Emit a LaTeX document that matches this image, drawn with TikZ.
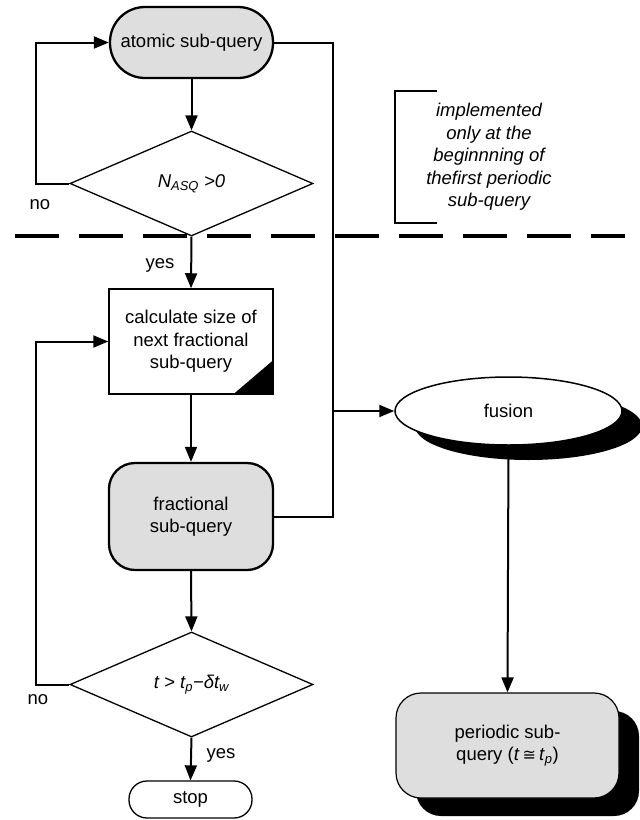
\documentclass[tikz,border=0pt]{standalone}
\usepackage{fontspec}
\setmainfont{Liberation Sans}
\newfontfamily\dejavu{DejaVu Sans}
\usetikzlibrary{shapes.geometric,arrows.meta,shadows}
\begin{document}
\begin{tikzpicture}[x=1pt,y=-1pt,
  every node/.style={font=\fontsize{18.5}{22.5}\selectfont, inner sep=0pt, align=center},
  conn/.style={line width=2pt},
  arr/.style={conn, -{Triangle[length=15pt,width=12pt]}},
  procgray/.style={draw, fill=black!13, line width=2.3pt},
  dec/.style={draw, diamond, aspect=2.314, minimum width=243pt, minimum height=105pt, line width=1.3pt},
  lbl/.style={font=\fontsize{18.5}{22.5}\selectfont}
]
\useasboundingbox (0,0) rectangle (640,820);

% dashed separator
\draw[line width=4.5pt, dash pattern=on 44pt off 20pt] (15,236) -- (625,236);

% nodes
\node[procgray, minimum width=163pt, minimum height=71pt, rounded corners=35pt] (atomic) at (191.5,42.5) {atomic sub-query};
\node[dec] (d1) at (191.5,183.5) {\itshape N\textsubscript{ASQ} >0};
\node[draw, line width=1.5pt, minimum width=164pt, minimum height=105pt] (box) at (191,341.5) {calculate size of\\next fractional\\sub-query};
\fill (box.south east) -- ++(-41,0) -- ++(41,-35) -- cycle;
\node[procgray, minimum width=164pt, minimum height=107pt, rounded corners=26pt] (frac) at (191,516.5) {fractional\\sub-query};
\node[dec] (d2) at (191.5,684.5) {\itshape t > t\textsubscript{p}−δt\textsubscript{w}};
\node[draw, line width=1.3pt, minimum width=123pt, minimum height=37pt, rounded corners=18pt] (stop) at (190.5,799.5) {stop};

\node[draw, ellipse, fill=white, line width=1.5pt, minimum width=227pt, minimum height=68pt,
  drop shadow={shadow xshift=20pt, shadow yshift=-15pt, opacity=1, fill=black}] (fusion) at (508.5,411) {fusion};
\node[draw, fill=black!13, line width=1.2pt, minimum width=223pt, minimum height=105pt, rounded corners=25pt,
  drop shadow={shadow xshift=20pt, shadow yshift=-18pt, opacity=1, fill=black}] (periodic) at (507.5,745.5)
  {periodic sub-\\query (\textit{t}\,{\dejavu\fontsize{16}{20}\selectfont ≅}\,\textit{t}\textsubscript{\textit{p}})};

% bracket note
\coordinate (bt) at (437,91);
\coordinate (bb) at (437,223);
\draw[line width=1.8pt] (bt) -- (395,91) -- (395,223) -- (bb);
\node[font=\fontsize{18.5}{22.5}\selectfont\itshape] (note) at (489,157) {implemented\\only at the\\beginnning of\\thefirst periodic\\sub-query};

% connectors
\draw[arr] (atomic.south) -- (d1.north);
\draw[arr] (d1.west) -- ++(-33,0) |- (atomic.west);
\draw[arr] (d1.south) -- (box.north);
\draw[arr] (box.south) -- (frac.north);
\draw[arr] (frac.south) -- (d2.north);
\draw[arr] (d2.west) -- ++(-33,0) |- (box.west);
\draw[arr] (d2.south) -- (stop.north);

\coordinate (busT) at (333,42.5);
\coordinate (busB) at (333,516.5);
\draw[conn] (atomic.east) -- (busT) -- (busB) -- (frac.east);
\draw[arr] (busT |- fusion.west) -- (fusion.west);
\draw[arr] (fusion.south) -- (periodic.north);

% labels
\node[lbl] (no1) at (40,205) {no};
\node[lbl] (yes1) at (160,265) {yes};
\node[lbl] (no2) at (38,700) {no};
\node[lbl] (yes2) at (221,755) {yes};
\end{tikzpicture}
\end{document}
